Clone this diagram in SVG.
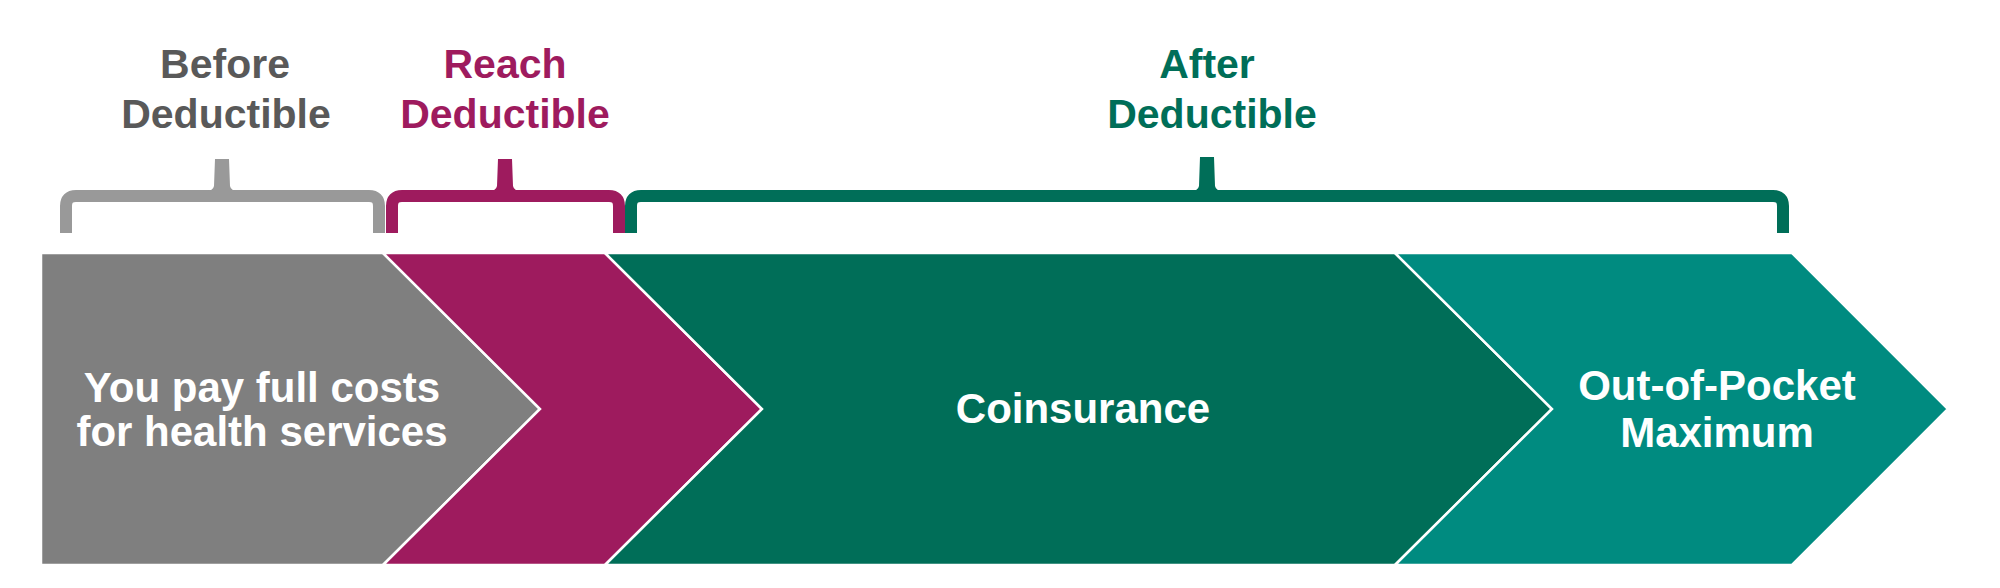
<svg xmlns="http://www.w3.org/2000/svg" width="2000" height="588" viewBox="0 0 2000 588">
  <style>
    .hdr { font-family: "Liberation Sans", Arial, sans-serif; font-weight: bold; font-size: 41px; text-anchor: middle; }
    .lbl { font-family: "Liberation Sans", Arial, sans-serif; font-weight: bold; font-size: 42px; text-anchor: middle; fill: #ffffff; }
    .chev { stroke: #ffffff; stroke-width: 2.5; stroke-linejoin: miter; }
    .br { fill: none; stroke-width: 12; stroke-linecap: butt; stroke-linejoin: round; }
  </style>
  <rect x="0" y="0" width="2000" height="588" fill="#ffffff"/>

  <g id="headers">
    <text class="hdr" fill="#595959" x="225" y="78">Before</text>
    <text class="hdr" fill="#595959" x="226" y="128">Deductible</text>
    <text class="hdr" fill="#9E1B5E" x="505" y="78">Reach</text>
    <text class="hdr" fill="#9E1B5E" x="505" y="128">Deductible</text>
    <text class="hdr" fill="#006E58" x="1207" y="78">After</text>
    <text class="hdr" fill="#006E58" x="1212" y="128">Deductible</text>
  </g>

  <g id="brackets">
    <g id="bracket-before" stroke="#999999" fill="#999999">
      <path class="br" d="M66,233 L66,206 Q66,196 76,196 L369,196 Q379,196 379,206 L379,233"/>
      <path stroke="none" d="M215,159 L229,159 L230,186 Q231,191 238,191 L238,197 L206,197 L206,191 Q213,191 214,186 Z"/>
    </g>
    <g id="bracket-reach" stroke="#9E1B5E" fill="#9E1B5E">
      <path class="br" d="M392,233 L392,206 Q392,196 402,196 L609,196 Q619,196 619,206 L619,233"/>
      <path stroke="none" d="M498,159 L512,159 L513,186 Q514,191 521,191 L521,197 L489,197 L489,191 Q496,191 497,186 Z"/>
    </g>
    <g id="bracket-after" stroke="#006E58" fill="#006E58">
      <path class="br" d="M631,233 L631,206 Q631,196 641,196 L1773,196 Q1783,196 1783,206 L1783,233"/>
      <path stroke="none" d="M1200,157 L1214,157 L1215,186 Q1216,191 1223,191 L1223,197 L1191,197 L1191,191 Q1198,191 1199,186 Z"/>
    </g>
  </g>

  <g id="connectors"></g>

  <g id="node-before">
    <polygon class="chev" fill="#7F7F7F" points="41,253 383,253 540,409 383,565 41,565"/>
    <text class="lbl" x="262" y="402">You pay full costs</text>
    <text class="lbl" x="262" y="446">for health services</text>
  </g>
  <g id="node-reach">
    <polygon class="chev" fill="#9E1B5E" points="383,253 605,253 762,409 605,565 383,565 540,409"/>
  </g>
  <g id="node-coinsurance">
    <polygon class="chev" fill="#006E58" points="605,253 1395,253 1552,409 1395,565 605,565 762,409"/>
    <text class="lbl" x="1083" y="423">Coinsurance</text>
  </g>
  <g id="node-oop">
    <polygon class="chev" fill="#008B80" points="1395,253 1792,253 1948,409 1792,565 1395,565 1552,409"/>
    <text class="lbl" x="1717" y="400">Out-of-Pocket</text>
    <text class="lbl" x="1717" y="447">Maximum</text>
  </g>
</svg>
